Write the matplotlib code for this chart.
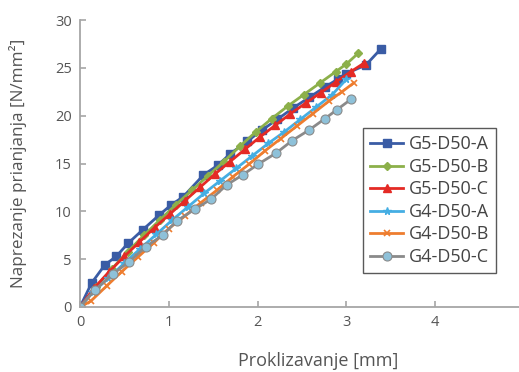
import matplotlib as mpl
import matplotlib.pyplot as plt

mpl.rcParams["font.family"] = ["Open Sans", "DejaVu Sans"]
mpl.rcParams["font.size"] = 11

# data (slip [mm] vs bond stress [N/mm2])
g5_a_x = [0, 0.13, 0.28, 0.41, 0.54, 0.71, 0.89, 1.03, 1.16, 1.39, 1.55, 1.69, 1.88, 2.05, 2.22, 2.4, 2.58, 2.76, 2.9, 3.0, 3.22, 3.39]
g5_a_y = [0, 2.5, 4.4, 5.3, 6.65, 8.1, 9.6, 10.7, 11.5, 13.8, 14.8, 16.0, 17.3, 18.5, 19.6, 20.8, 21.9, 23.0, 23.8, 24.4, 25.3, 27.0]

g5_b_x = [0, 0.18, 0.36, 0.54, 0.72, 0.9, 1.08, 1.26, 1.44, 1.62, 1.8, 1.98, 2.16, 2.34, 2.52, 2.7, 2.88, 3.0, 3.13]
g5_b_y = [0, 2.1, 4.0, 5.8, 7.5, 9.1, 10.7, 12.2, 13.7, 15.2, 16.8, 18.3, 19.7, 21.0, 22.2, 23.4, 24.6, 25.4, 26.5]

g5_c_x = [0, 0.16, 0.33, 0.5, 0.67, 0.84, 1.01, 1.18, 1.35, 1.52, 1.69, 1.86, 2.03, 2.2, 2.37, 2.54, 2.71, 2.88, 3.05, 3.2]
g5_c_y = [0, 2.0, 3.7, 5.3, 6.8, 8.3, 9.7, 11.1, 12.5, 13.9, 15.2, 16.5, 17.8, 19.0, 20.2, 21.3, 22.4, 23.5, 24.6, 25.5]

g4_a_x = [0, 0.15, 0.32, 0.5, 0.68, 0.86, 1.04, 1.22, 1.4, 1.58, 1.76, 1.94, 2.12, 2.3, 2.48, 2.66, 2.84, 3.0]
g4_a_y = [0, 1.6, 3.0, 4.6, 6.1, 7.6, 9.1, 10.5, 11.9, 13.2, 14.5, 15.8, 17.1, 18.3, 19.6, 20.9, 22.2, 23.8]

g4_b_x = [0, 0.12, 0.3, 0.47, 0.65, 0.83, 1.0, 1.18, 1.36, 1.54, 1.72, 1.9, 2.08, 2.26, 2.44, 2.62, 2.8, 2.95, 3.08]
g4_b_y = [0, 0.6, 2.2, 3.7, 5.2, 6.7, 8.2, 9.5, 10.9, 12.2, 13.6, 14.9, 16.3, 17.6, 18.9, 20.2, 21.5, 22.5, 23.4]

g4_c_x = [0, 0.17, 0.37, 0.55, 0.74, 0.93, 1.09, 1.29, 1.48, 1.65, 1.83, 2.01, 2.21, 2.39, 2.58, 2.76, 2.89, 3.05]
g4_c_y = [0, 1.8, 3.45, 4.7, 6.3, 7.5, 9.0, 10.2, 11.3, 12.75, 13.8, 14.95, 16.1, 17.4, 18.5, 19.7, 20.6, 21.7]

labels = ["G5-D50-A", "G5-D50-B", "G5-D50-C", "G4-D50-A", "G4-D50-B", "G4-D50-C"]

fig = plt.figure(figsize=(5.19, 3.72), dpi=100)
ax = fig.add_axes([80 / 519, 1 - 307 / 372, 444 / 519, 287 / 372])

ax.plot(g5_a_x, g5_a_y, color="#3A5CA5", lw=2.0, marker="s", ms=5.5, label=labels[0])
ax.plot(g5_b_x, g5_b_y, color="#8CB04A", lw=2.0, marker="D", ms=4, label=labels[1])
ax.plot(g5_c_x, g5_c_y, color="#E42A25", lw=2.0, marker="^", ms=5.5, label=labels[2])
ax.plot(g4_a_x, g4_a_y, color="#45AEE3", lw=2.0, marker="*", ms=5.5, label=labels[3])
ax.plot(g4_b_x, g4_b_y, color="#EE7D2F", lw=2.0, marker="x", ms=4.5, mew=1.2, label=labels[4])
ax.plot(g4_c_x, g4_c_y, color="#8A8A8A", lw=2.0, marker="o", ms=6.5,
        mfc="#8EC1D9", mec="#8A8A8A", mew=0.8, label=labels[5])

ax.set_xlim(0, 5)
ax.set_ylim(0, 30)
ax.set_xticks([0, 1, 2, 3, 4, 5])
ax.set_yticks([0, 5, 10, 15, 20, 25, 30])

for side in ["top", "right"]:
    ax.spines[side].set_visible(False)
for side in ["left", "bottom"]:
    ax.spines[side].set_color("#A6A6A6")
    ax.spines[side].set_linewidth(1.3)
ax.tick_params(direction="in", length=4, width=1.2, color="#A6A6A6",
               labelcolor="#555555", labelsize=10.5, pad=6)

ax.set_xlabel("Proklizavanje [mm]", color="#555555", fontsize=13)
ax.xaxis.set_label_coords(0.536, -0.157)
ax.set_ylabel("Naprezanje prianjanja [N/mm²]", color="#555555", fontsize=12.3)
ax.yaxis.set_label_coords(-0.119, 0.5)

leg = ax.legend(loc="lower left", bbox_to_anchor=(0.637, 0.118), fancybox=False,
                edgecolor="#595959", framealpha=1, fontsize=13, handlelength=1.85,
                labelspacing=0.25, borderpad=0.4, handletextpad=0.3, borderaxespad=0)
leg.get_frame().set_linewidth(1.0)
for t in leg.get_texts():
    t.set_color("#444444")

fig.savefig("out.png", dpi=100)
